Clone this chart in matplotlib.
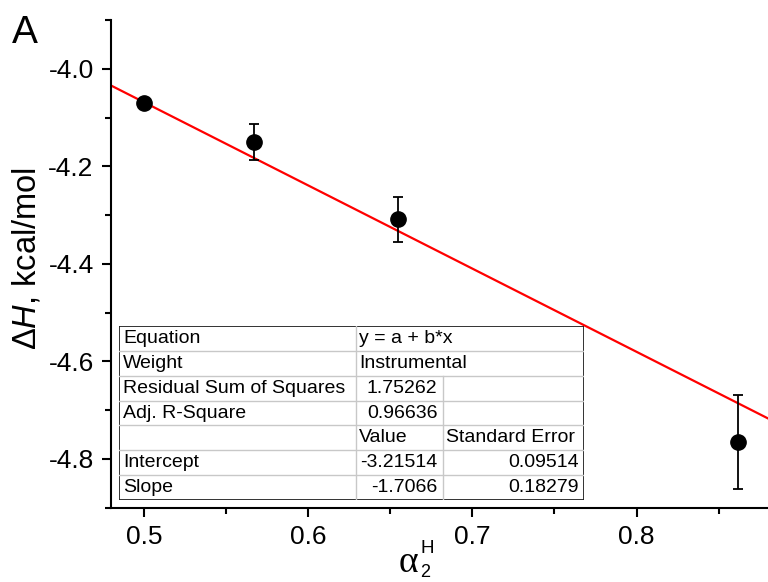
import numpy as np
import matplotlib
matplotlib.use("Agg")
import matplotlib.pyplot as plt
from matplotlib.ticker import MultipleLocator, FormatStrFormatter

plt.rcParams["font.family"] = ["Liberation Sans", "DejaVu Sans"]
plt.rcParams["mathtext.fontset"] = "custom"
plt.rcParams["mathtext.rm"] = "Liberation Sans"
plt.rcParams["mathtext.it"] = "Liberation Sans:italic"
plt.rcParams["axes.unicode_minus"] = False

# measured enthalpies vs alpha_2^H
alpha = [0.500, 0.567, 0.655, 0.862]
dH = [-4.071, -4.150, -4.309, -4.765]
dH_err = [0.008, 0.037, 0.046, 0.096]

# linear fit results
intercept = -3.21514
slope = -1.7066
fit_rows = [
    ["Equation", "y = a + b*x", ""],
    ["Weight", "Instrumental", ""],
    ["Residual Sum of Squares", "1.75262", ""],
    ["Adj. R-Square", "0.96636", ""],
    ["", "Value", "Standard Error"],
    ["Intercept", "-3.21514", "0.09514"],
    ["Slope", "-1.7066", "0.18279"],
]

W, H = 768, 582
fig = plt.figure(figsize=(W / 100, H / 100), dpi=100)
ax = fig.add_axes([111 / W, 1 - 507.7 / H, (W - 111) / W, (507.7 - 20) / H])

xmin, xmax = 0.48, 0.88
ax.set_xlim(xmin, xmax)
ax.set_ylim(-4.9, -3.9)

xs = np.array([xmin, xmax])
ax.plot(xs, intercept + slope * xs, color="red", lw=1.6, zorder=2)
ax.errorbar(alpha, dH, yerr=dH_err, fmt="o", color="black", ms=11,
            elinewidth=1.3, capsize=3.7, capthick=1.3, zorder=3)

for s in ["top", "right"]:
    ax.spines[s].set_visible(False)
for s in ["left", "bottom"]:
    ax.spines[s].set_linewidth(1.5)

ax.xaxis.set_major_locator(MultipleLocator(0.1))
ax.xaxis.set_minor_locator(MultipleLocator(0.05))
ax.yaxis.set_major_locator(MultipleLocator(0.2))
ax.yaxis.set_minor_locator(MultipleLocator(0.1))
ax.yaxis.set_major_formatter(FormatStrFormatter("%.1f"))
ax.tick_params(which="major", direction="out", length=6.5, width=1.5,
               labelsize=19, pad=6)
ax.tick_params(which="minor", direction="out", length=4, width=1.5)

ax.set_ylabel(r"$\Delta\mathit{H}$, kcal/mol", fontsize=23.5, va="center")
ax.yaxis.set_label_coords(-0.128, 0.51)

# x-axis title: alpha with stacked sub/superscript
fig.text(399 / W, 1 - 572 / H, "\u03b1", fontsize=27, family="Liberation Serif",
         ha="left", va="baseline")
fig.text(421 / W, 1 - 553 / H, "H", fontsize=13.5, ha="left", va="baseline")
fig.text(420.5 / W, 1 - 577 / H, "2", fontsize=13, ha="left", va="baseline")

fig.text(12 / W, 1 - 43 / H, "A", fontsize=28, ha="left", va="baseline")

# fit-result table, drawn in pixel units
tx0, ty0, tx1, ty1 = 119, 326, 584, 500
tab = fig.add_axes([tx0 / W, 1 - ty1 / H, (tx1 - tx0) / W, (ty1 - ty0) / H])
tab.set_xlim(0, tx1 - tx0)
tab.set_ylim(ty1 - ty0, 0)
tab.axis("off")
tab.add_patch(plt.Rectangle((0, 0), tx1 - tx0, ty1 - ty0, facecolor="white",
                            edgecolor="#222222", lw=1.3, zorder=1))
cols = [0, 237.3, 324.3, tx1 - tx0]
nrow = len(fit_rows)
rh = (ty1 - ty0) / nrow
grid = "#c8c8c8"
for i in range(1, nrow):
    tab.plot([0, cols[-1]], [i * rh, i * rh], color=grid, lw=1, zorder=2)
tab.plot([cols[1], cols[1]], [0, ty1 - ty0], color=grid, lw=1, zorder=2)
tab.plot([cols[2], cols[2]], [2 * rh, ty1 - ty0], color=grid, lw=1, zorder=2)

for i, row in enumerate(fit_rows):
    yc = (i + 0.5) * rh
    tab.text(cols[0] + 4, yc, row[0], fontsize=14, ha="left", va="center")
    if i < 2 or i == 4:
        tab.text(cols[1] + 3, yc, row[1], fontsize=14, ha="left", va="center")
        tab.text(cols[2] + 3, yc, row[2], fontsize=14, ha="left", va="center")
    else:
        tab.text(cols[2] - 6, yc, row[1], fontsize=14, ha="right", va="center")
        tab.text(cols[3] - 5, yc, row[2], fontsize=14, ha="right", va="center")

fig.savefig("out.png", dpi=100)
